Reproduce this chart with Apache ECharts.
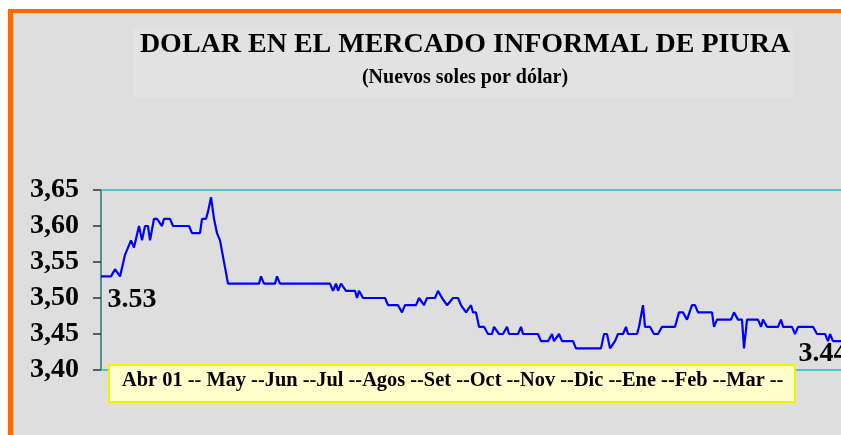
<!DOCTYPE html>
<html>
<head>
<meta charset="utf-8">
<script src="https://cdn.jsdelivr.net/npm/echarts@6/dist/echarts.min.js"></script>
<style>
html,body{margin:0;padding:0;background:#ffffff;}
#chart{width:841px;height:435px;}
</style>
</head>
<body>
<div id="chart"></div>
<script>
// ---- data (x = trading-day index from Abr 01, y = soles per dollar) ----
const dayIndex = [0,5,7,8,9.5,12,13.5,15,16.5,19,20.5,22,23.5,24.5,26.5,28,29,30.5,31.5,34.5,36,44,45.5,49.5,50.5,52.5,53.5,55,56.5,58,59.5,63.5,79,80,81.5,87,88,89.5,114.5,116,117.5,118.5,120,122.5,127,128,129,131,142,143.5,148.5,150.5,152,157.5,159,161.5,163,167,168.5,170.5,171.5,173,174,176,178.5,180,181,182.5,183.5,185,186,187.5,189,191.5,193.5,195.5,196.5,199,201,203,204,208.5,210,211,218.5,220,223.5,225.5,226.5,229,230.5,236,237.5,250,251.5,253,254.5,255.5,257,258.5,261,262.5,263.5,268,269,271,272,274.5,276.5,278.5,280.5,287,289,291,293,295.5,297,298.5,305.5,306.5,308,315,316.5,318.5,320.5,321.5,323,328.5,330,331,333,338.5,340,341,345.5,347,348.5,356,358,362,363.5,364.5,366,374.5];
const rate = [3.53,3.53,3.54,3.54,3.53,3.56,3.57,3.58,3.57,3.60,3.58,3.60,3.60,3.58,3.61,3.61,3.61,3.60,3.61,3.61,3.60,3.60,3.59,3.59,3.61,3.61,3.62,3.64,3.61,3.59,3.58,3.52,3.52,3.53,3.52,3.52,3.53,3.52,3.52,3.51,3.52,3.51,3.52,3.51,3.51,3.50,3.51,3.50,3.50,3.49,3.49,3.48,3.49,3.49,3.50,3.49,3.50,3.50,3.51,3.50,3.50,3.49,3.49,3.50,3.50,3.49,3.49,3.48,3.48,3.49,3.48,3.48,3.46,3.46,3.45,3.45,3.46,3.45,3.45,3.46,3.45,3.45,3.46,3.45,3.45,3.44,3.44,3.45,3.44,3.45,3.44,3.44,3.43,3.43,3.45,3.45,3.43,3.43,3.44,3.45,3.45,3.46,3.45,3.45,3.46,3.49,3.46,3.46,3.45,3.45,3.46,3.46,3.48,3.48,3.47,3.49,3.49,3.48,3.48,3.46,3.47,3.47,3.48,3.47,3.47,3.43,3.47,3.47,3.46,3.47,3.46,3.46,3.47,3.46,3.46,3.45,3.46,3.46,3.45,3.45,3.44,3.45,3.44,3.44];
const yTicks = [3.40,3.45,3.50,3.55,3.60,3.65];
const yTickLabels = ['3,40','3,45','3,50','3,55','3,60','3,65'];
const monthLabels = ['Abr 01','May','Jun','Jul','Agos','Set','Oct','Nov','Dic','Ene','Feb','Mar'];
const titleText = 'DOLAR EN EL MERCADO INFORMAL DE PIURA';
const subtitleText = '(Nuevos soles por dólar)';

const serif = '"Times New Roman","Liberation Serif",serif';
const seriesData = dayIndex.map((d,i)=>[d, rate[i]]);
const lastI = dayIndex.length - 1;
const endPoints = [
  {value:[dayIndex[0], rate[0]], label:{offset:[31,23]}},
  {value:[dayIndex[lastI], rate[lastI]], label:{offset:[-27,13]}}
];
const monthString = monthLabels.map((m,i)=> i===0 ? m + ' -- ' : m + ' --').join('');

const chart = echarts.init(document.getElementById('chart'), null, {renderer:'canvas'});
chart.setOption({
  animation:false,
  backgroundColor:'#ffffff',
  title:[
    {text:titleText, left:460, top:26, textAlign:'center',
     textStyle:{fontFamily:serif, fontWeight:'bold', fontSize:28, color:'#000'}},
    {text:subtitleText, left:460, top:63, textAlign:'center',
     textStyle:{fontFamily:serif, fontWeight:'bold', fontSize:20, color:'#000'}}
  ],
  graphic:[
    {type:'rect', z:-10, shape:{x:8,y:9,width:840,height:430}, style:{fill:'#dedede'}},
    {type:'rect', z:-9, shape:{x:133,y:28,width:660,height:70}, style:{fill:'rgba(255,255,255,0.12)'}},
    {type:'rect', z:-8, shape:{x:8,y:9,width:835,height:4}, style:{fill:'#ff6600'}},
    {type:'rect', z:-8, shape:{x:8,y:9,width:5,height:430}, style:{fill:'#ff6600'}},
    {type:'rect', z:100, shape:{x:109,y:365,width:686,height:37},
     style:{fill:'#ffffcc', stroke:'#f2f200', lineWidth:2}},
    {type:'text', z:101, x:122, y:381,
     style:{text:monthString, fill:'#000', font:'bold 20.4px '+serif, textVerticalAlign:'middle', textAlign:'left'}}
  ],
  grid:{left:101, top:190, width:760, height:180, containLabel:false, outerBoundsMode:'none'},
  xAxis:[
    {type:'value', min:0, max:380, position:'bottom',
     axisLine:{show:true, onZero:false, lineStyle:{color:'#40cccc', width:2}},
     axisTick:{show:false}, axisLabel:{show:false}, splitLine:{show:false}},
    {type:'value', min:0, max:380, position:'top',
     axisLine:{show:true, lineStyle:{color:'#40cccc', width:2}},
     axisTick:{show:false}, axisLabel:{show:false}, splitLine:{show:false}}
  ],
  yAxis:{type:'value', min:3.40, max:3.65, interval:0.05,
    axisLine:{show:true, lineStyle:{color:'#2f6f6f', width:1.5}},
    axisTick:{show:true, inside:false, length:8, lineStyle:{color:'#333', width:1.5}},
    axisLabel:{margin:22, fontFamily:serif, fontWeight:'bold', fontSize:28, color:'#000',
      formatter:(v)=>{const k=yTicks.findIndex(t=>Math.abs(t-v)<1e-6); return k>=0?yTickLabels[k]:'';}},
    splitLine:{show:false}},
  series:[
    {type:'line', data:seriesData, xAxisIndex:0, symbol:'none', smooth:false,
     lineStyle:{color:'#0000ff', width:2.2}, z:5},
    {type:'scatter', data:endPoints, xAxisIndex:0, symbolSize:1,
     itemStyle:{color:'rgba(0,0,0,0)', opacity:1},
     label:{show:true, position:'inside', formatter:(p)=>p.value[1].toFixed(2),
       fontFamily:serif, fontWeight:'bold', fontSize:28, color:'#000', opacity:1, textBorderWidth:0},
     emphasis:{disabled:true}, z:6}
  ]
});
</script>
</body>
</html>
